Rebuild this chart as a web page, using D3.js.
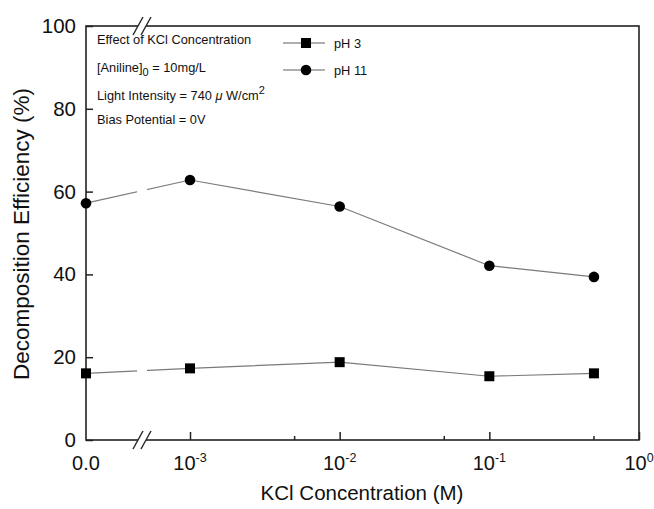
<!DOCTYPE html>
<html>
<head>
<meta charset="utf-8">
<script src="https://cdn.jsdelivr.net/npm/d3@7"></script>
<style>
  body { margin: 0; background: #fff; }
  svg { font-family: "Liberation Sans", Arial, sans-serif; }
</style>
</head>
<body>
<svg id="chart" width="654" height="509"></svg>
<script>
// KCl concentration (M); 0 is drawn left of the axis break
var concentrations = [0, 0.001, 0.01, 0.1, 0.5];
var ph3 = [16.1, 17.3, 18.8, 15.4, 16.1];
var ph11 = [57.2, 62.8, 56.4, 42.1, 39.4];
var yTicks = [0, 20, 40, 60, 80, 100];
var xMajor = [0.001, 0.01, 0.1, 1];
var xMinor = [0.005, 0.05, 0.5];
var notes = ["Effect of KCl Concentration", "[Aniline]0 = 10mg/L", "Light Intensity = 740 \u03bcW/cm2", "Bias Potential = 0V"];

var svg = d3.select("#chart"),
    margin = {top: 26, right: 15, bottom: 69, left: 86},
    width = +svg.attr("width") - margin.left - margin.right,
    height = +svg.attr("height") - margin.top - margin.bottom,
    g = svg.append("g").attr("transform", "translate(" + margin.left + "," + margin.top + ")");

var xLog = d3.scaleLog().domain([0.001, 1]).range([104, width]);
var breakX = 56;
var x = function(d) { return d === 0 ? 0 : xLog(d); };
var y = d3.scaleLinear().domain([0, 100]).range([height, 0]);

// data lines
var line = d3.line().x(function(d) { return x(d[0]); }).y(function(d) { return y(d[1]); });
[ph3, ph11].forEach(function(vals) {
  g.append("path")
    .datum(d3.zip(concentrations, vals))
    .attr("fill", "none")
    .attr("stroke", "#7a7a7a")
    .attr("stroke-width", 1.2)
    .attr("d", line);
});
// gap in lines at the break
g.append("rect").attr("x", breakX - 5).attr("y", 2).attr("width", 10).attr("height", height - 4).attr("fill", "#fff");

// frame
g.append("rect").attr("width", width).attr("height", height)
  .attr("fill", "none").attr("stroke", "#222").attr("stroke-width", 1.6);

// y axis
var yAxis = g.append("g").call(d3.axisLeft(y).tickValues(yTicks).tickSize(-7).tickPadding(10));
yAxis.select(".domain").remove();
yAxis.selectAll("line").attr("stroke", "#222").attr("stroke-width", 1.5);
yAxis.selectAll("text").attr("font-size", 20.5).attr("fill", "#111");

// x axis
var xAxis = g.append("g").attr("transform", "translate(0," + height + ")")
  .call(d3.axisBottom(xLog).tickValues(xMajor).tickSize(-8).tickFormat(""));
xAxis.select(".domain").remove();
xAxis.selectAll("line").attr("stroke", "#222").attr("stroke-width", 1.5);
g.append("g").attr("transform", "translate(0," + height + ")")
  .selectAll("line").data(xMinor).enter().append("line")
  .attr("x1", xLog).attr("x2", xLog).attr("y1", 0).attr("y2", -4)
  .attr("stroke", "#222").attr("stroke-width", 1.5);

var xl = g.append("g").attr("font-size", 20).attr("fill", "#111").attr("text-anchor", "middle");
xl.append("text").attr("x", x(0)).attr("y", height + 30).text("0.0");
xMajor.forEach(function(d) {
  var t = xl.append("text").attr("x", xLog(d)).attr("y", height + 30);
  t.append("tspan").text("10");
  t.append("tspan").attr("dy", -8).attr("font-size", 12.5).text(Math.round(Math.log10(d)) === 0 ? "0" : Math.round(Math.log10(d)));
});

// axis breaks
[0, height].forEach(function(yy) {
  g.append("rect").attr("x", breakX - 4).attr("y", yy - 2).attr("width", 8).attr("height", 4).attr("fill", "#fff");
  [-4, 4].forEach(function(dx) {
    g.append("line")
      .attr("x1", breakX + dx - 5).attr("y1", yy + 9)
      .attr("x2", breakX + dx + 5).attr("y2", yy - 9)
      .attr("stroke", "#222").attr("stroke-width", 1.4);
  });
});

// markers
g.selectAll(".sq").data(d3.zip(concentrations, ph3)).enter().append("rect")
  .attr("x", function(d) { return x(d[0]) - 5; })
  .attr("y", function(d) { return y(d[1]) - 5; })
  .attr("width", 10).attr("height", 10).attr("fill", "#000");
g.selectAll(".ci").data(d3.zip(concentrations, ph11)).enter().append("circle")
  .attr("cx", function(d) { return x(d[0]); })
  .attr("cy", function(d) { return y(d[1]); })
  .attr("r", 5.3).attr("fill", "#000");

// axis titles
svg.append("text").attr("x", 362).attr("y", 500).attr("text-anchor", "middle")
  .attr("font-size", 20.5).attr("fill", "#111").text("KCl Concentration (M)");
svg.append("text").attr("transform", "translate(29,234) rotate(-90)").attr("text-anchor", "middle")
  .attr("font-size", 22.5).attr("fill", "#111").text("Decomposition Efficiency (%)");

// notes
var nt = g.append("g").attr("font-size", 12.8).attr("fill", "#111");
nt.append("text").attr("x", 11).attr("y", 18).text(notes[0]);
var t1 = nt.append("text").attr("x", 11).attr("y", 46);
t1.append("tspan").text("[Aniline]");
t1.append("tspan").attr("dy", 4).attr("font-size", 11).text("0");
t1.append("tspan").attr("dy", -4).text(" = 10mg/L");
var t2 = nt.append("text").attr("x", 11).attr("y", 74);
t2.append("tspan").text("Light Intensity = 740 ");
t2.append("tspan").attr("font-style", "italic").text("\u03bc");
t2.append("tspan").text(" W/cm");
t2.append("tspan").attr("dy", -6).attr("font-size", 11).text("2");
nt.append("text").attr("x", 11).attr("y", 98).text(notes[3]);

// legend
var legend = g.append("g").attr("transform", "translate(197,17)");
[["pH 3", "sq"], ["pH 11", "ci"]].forEach(function(item, i) {
  var r = legend.append("g").attr("transform", "translate(0," + (i * 27) + ")");
  r.append("line").attr("x1", 0).attr("x2", 18).attr("stroke", "#7a7a7a").attr("stroke-width", 1.2);
  r.append("line").attr("x1", 28).attr("x2", 42).attr("stroke", "#7a7a7a").attr("stroke-width", 1.2);
  if (item[1] === "sq") r.append("rect").attr("x", 18).attr("y", -5).attr("width", 10).attr("height", 10).attr("fill", "#000");
  else r.append("circle").attr("cx", 23).attr("r", 5.3).attr("fill", "#000");
  r.append("text").attr("x", 51).attr("y", 5).attr("font-size", 12.8).attr("fill", "#111").text(item[0]);
});
</script>
</body>
</html>
